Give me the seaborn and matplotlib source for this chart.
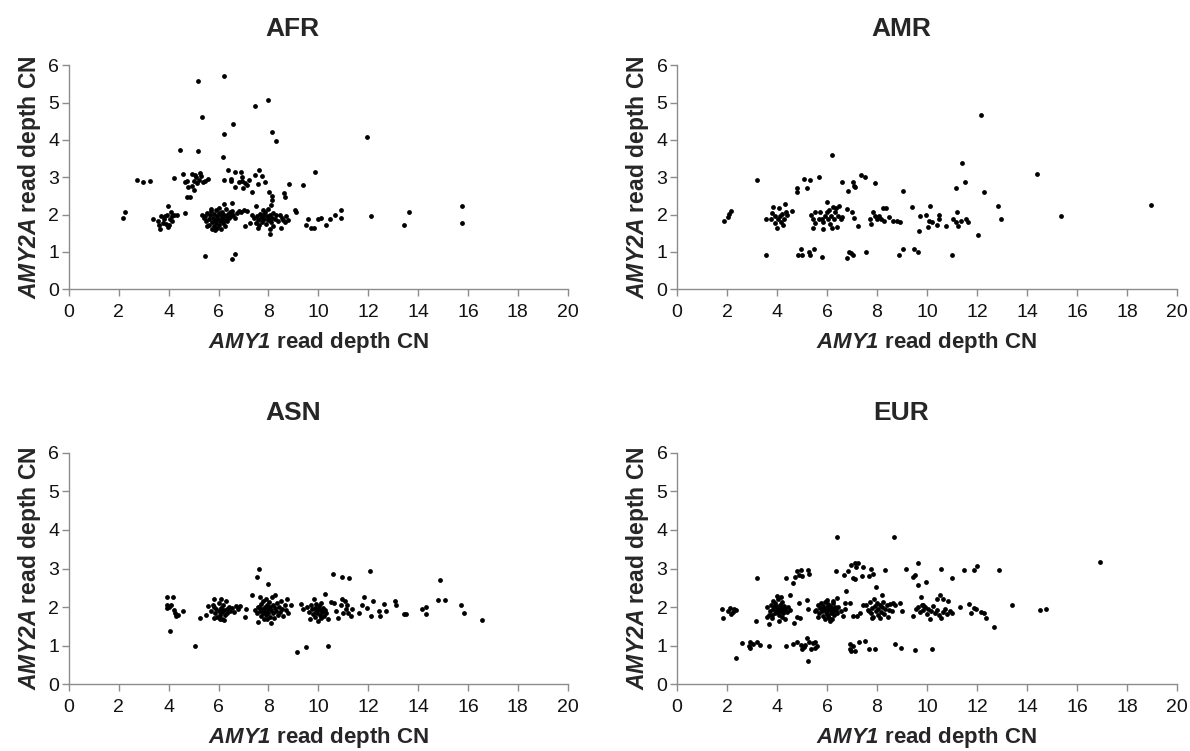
import numpy as np
import pandas as pd
import matplotlib
matplotlib.use('Agg')
import matplotlib.pyplot as plt
import seaborn as sns

# (AMY1 CN, AMY2A CN), one list per population
afr_pts = [
    (5.19,5.59),(6.21,5.71),(7.97,5.08),(7.47,4.92),(5.34,4.61),(6.56,4.43),(8.14,4.20),(8.32,3.96),
    (6.21,4.15),(11.97,4.08),(4.46,3.73),(5.19,3.70),(6.18,3.53),(9.85,3.13),(9.37,2.79),(8.82,2.81),
    (2.73,2.92),(2.98,2.86),(3.25,2.90),(4.23,2.98),(15.77,2.22),(15.77,1.78),(13.62,2.08),(13.44,1.72),
    (12.12,1.96),(2.17,1.91),(2.26,2.08),(5.45,0.90),(6.53,0.81),(6.66,0.95),(8.06,1.48),(10.92,2.12),
    (10.92,1.90),(10.66,1.99),(10.47,1.88),(10.32,1.72),(10.11,1.90),(10.0,1.88),(9.82,1.65),(9.71,1.65),
    (9.50,1.71),(9.57,1.87),(9.05,2.13),(9.10,2.06),(4.64,2.04),
    (4.58,3.10),(4.64,2.86),(4.75,2.91),(4.76,2.73),(4.73,2.48),(4.84,2.48),(4.93,3.10),(5.0,2.91),
    (5.0,2.66),(4.95,2.77),(5.1,3.0),(5.27,3.11),(5.31,3.04),(5.37,2.86),(5.45,2.89),(5.56,2.95),
    (5.13,2.85),(5.22,2.92),(5.05,3.05),
    (6.37,3.19),(6.67,3.15),(6.50,2.95),(6.50,2.90),(6.21,2.92),(6.90,3.13),(6.95,3.0),(6.92,2.91),
    (6.82,2.86),(6.64,2.73),(6.98,2.72),(7.07,2.84),(7.21,2.92),(7.15,2.79),(7.34,2.61),(7.47,3.06),
    (7.63,3.19),(7.74,3.04),(7.58,2.82),(7.85,2.88),(8.02,2.60),(8.14,2.51),(8.14,2.40),(8.63,2.58),
    (8.66,2.46),(6.55,2.30),(6.20,2.27),
    (3.37,1.87),(3.58,1.84),(3.61,1.71),(3.65,1.62),(3.76,1.78),(3.80,1.88),(3.92,1.99),(3.98,2.22),
    (3.98,1.66),(4.05,1.88),(4.08,2.06),(4.15,1.84),(4.23,1.99),(4.32,1.99),(3.89,1.75),(3.69,1.96),
    (4.02,1.72),(3.85,1.95),(4.12,1.95),
    (5.35,2.00),(5.40,1.90),(5.45,1.95),(5.50,1.82),(5.55,2.05),(5.60,1.88),(5.62,1.72),(5.65,1.98),
    (5.70,2.10),(5.72,1.80),(5.75,1.62),(5.78,1.92),(5.80,2.02),(5.82,1.70),(5.85,1.85),(5.88,2.12),
    (5.90,1.78),(5.92,1.95),(5.95,1.65),(5.98,1.88),(6.00,2.05),(6.02,1.72),(6.05,1.82),(6.08,1.98),
    (6.10,1.62),(6.12,1.90),(6.15,2.08),(6.18,1.76),(6.20,1.86),(6.22,2.00),(6.25,1.70),(6.28,1.94),
    (6.30,2.15),(6.33,1.82),(6.36,2.02),(6.40,1.90),(6.45,2.06),(6.48,1.95),(6.52,2.10),(6.58,2.00),
    (6.65,1.92),(6.72,2.05),(6.80,2.10),(6.88,2.08),(7.00,2.12),(7.05,1.68),(7.15,2.10),(7.25,1.76),
    (5.52,1.68),(5.68,2.15),(6.03,2.18),(5.87,1.58),
    (7.35,2.00),(7.42,1.90),(7.48,2.22),(7.52,1.78),(7.55,1.95),(7.60,1.85),(7.64,1.72),(7.68,2.02),
    (7.72,1.92),(7.75,1.80),(7.78,1.98),(7.82,1.88),(7.86,2.08),(7.90,1.75),(7.93,1.95),(7.97,1.85),
    (8.00,2.15),(8.03,1.90),(8.06,2.00),(8.10,1.80),(8.12,2.25),(8.15,1.92),(8.18,2.05),(8.20,1.70),
    (8.25,1.88),(8.30,1.98),(8.40,1.82),(8.48,2.00),(8.52,1.64),(8.55,1.92),(8.60,1.86),(8.65,1.80),
    (8.72,1.96),(8.80,1.85),(7.58,1.65),(7.80,2.12),(8.08,1.60),
]

amr_pts = [
    (12.15,4.68),(6.19,3.60),(11.40,3.38),(14.41,3.08),(3.19,2.92),(5.09,2.95),(5.32,2.92),(5.69,3.0),
    (6.59,2.88),(7.04,2.86),(7.06,2.77),(7.12,2.73),(7.35,3.07),(7.52,3.0),(7.91,2.85),(6.83,2.63),
    (5.21,2.72),(4.80,2.70),(4.79,2.60),(9.04,2.62),(11.16,2.70),(11.51,2.86),(12.27,2.61),(12.84,2.22),
    (12.95,1.88),(12.03,1.44),(15.38,1.97),(18.98,2.26),(1.89,1.84),(2.04,1.93),(2.07,2.02),(2.16,2.10),
    (3.55,0.92),(4.82,0.91),(4.98,0.91),(4.95,1.08),(5.26,1.0),(5.32,0.91),(5.46,1.07),(5.78,0.86),
    (6.80,0.84),(6.87,1.0),(6.95,0.98),(7.04,0.91),(7.55,1.0),(8.88,0.91),(9.05,1.07),(9.49,1.07),
    (9.62,1.0),(10.98,0.91),
    (3.54,1.88),(3.77,1.88),(3.84,2.21),(3.80,2.04),(3.90,1.97),(4.0,1.64),(3.93,1.78),(4.04,1.88),
    (4.07,2.17),(4.10,1.97),(4.15,1.80),(4.18,2.02),(4.22,1.72),(4.27,1.88),(4.30,2.28),(4.34,2.06),
    (4.39,1.99),(4.60,2.10),
    (5.37,1.99),(5.43,1.88),(5.44,1.64),(5.52,1.78),(5.67,1.88),(5.72,2.06),(5.79,1.88),(5.82,1.80),
    (5.90,1.97),(5.98,2.06),(6.0,2.33),(6.04,1.88),(6.08,2.11),(6.13,1.75),(6.16,1.97),(6.19,1.64),
    (6.23,2.20),(6.28,1.88),(6.33,2.06),(6.37,2.17),(6.43,1.97),(6.40,1.66),(6.48,2.22),(6.55,1.88),
    (6.61,1.93),(5.82,1.62),(5.52,2.06),(6.80,2.15),(6.98,2.06),(7.06,1.92),(7.23,1.69),
    (7.70,1.88),(7.76,1.75),(7.85,2.06),(7.93,1.96),(7.99,1.88),(8.08,1.96),(8.14,1.88),(8.22,2.17),
    (8.26,1.84),(8.34,2.17),(8.46,1.93),(8.63,1.84),(8.80,1.84),(8.92,1.81),
    (9.41,2.20),(9.71,1.96),(9.68,1.55),(9.94,1.99),(10.02,1.66),(10.09,1.84),(10.12,2.22),(10.18,1.80),
    (10.40,1.71),(10.49,2.00),(10.49,1.87),(10.76,1.68),(11.04,1.88),(11.16,1.81),(11.20,2.06),(11.23,1.68),
    (11.35,1.84),(11.57,1.88),(11.65,1.81),
]

asn_pts = [
    (7.61,2.99),(7.55,2.79),(8.0,2.61),(10.58,2.86),(10.95,2.78),(11.24,2.76),(12.08,2.94),(14.89,2.70),
    (14.82,2.18),(15.09,2.18),(15.73,2.06),(15.85,1.84),(16.58,1.67),(14.17,1.95),(14.33,2.0),(14.30,1.81),
    (13.45,1.81),(13.53,1.81),(13.08,2.15),(13.11,2.06),(12.64,2.08),(12.73,1.89),(12.42,1.89),(12.48,1.77),
    (12.20,2.15),(12.12,1.76),(11.85,2.27),(11.94,1.98),(11.74,2.06),(11.64,1.85),
    (4.06,1.39),(5.05,1.0),(9.15,0.83),(9.52,0.97),(10.39,0.99),
    (3.94,2.25),(4.17,2.25),(3.94,2.06),(4.02,1.99),(4.09,2.06),(4.21,1.93),(4.27,1.85),(4.39,1.79),
    (4.30,1.77),(4.59,1.89),(3.94,1.98),
    (5.26,1.72),(5.48,1.79),(5.58,2.02),(5.68,1.89),(5.76,2.05),(5.83,2.22),(5.83,1.72),
    (5.80,2.00),(5.85,1.85),(5.90,1.95),(5.95,1.75),(6.00,2.10),(6.02,1.90),(6.05,1.80),(6.08,2.20),
    (6.10,1.98),(6.12,1.70),(6.15,1.88),(6.18,2.05),(6.20,1.92),(6.25,1.80),(6.28,2.15),(6.32,1.95),
    (6.35,1.85),(6.40,2.00),(6.45,1.90),(6.52,1.98),(6.60,1.88),(6.70,2.02),(6.78,1.95),(6.85,2.02),
    (7.05,1.75),(7.10,1.95),(6.05,1.68),(6.22,1.66),
    (7.35,2.30),(7.45,1.92),(7.55,1.85),(7.58,1.62),(7.62,2.00),(7.65,1.90),(7.68,2.25),(7.70,1.78),
    (7.72,2.08),(7.75,1.95),(7.78,1.85),(7.80,2.15),(7.82,1.70),(7.85,2.00),(7.88,1.90),(7.90,2.20),
    (7.92,1.80),(7.95,2.05),(7.98,1.95),(8.00,1.85),(8.02,2.12),(8.05,1.75),(8.08,2.00),(8.10,1.58),
    (8.12,1.92),(8.15,2.25),(8.18,1.85),(8.20,2.05),(8.22,1.72),(8.25,1.98),(8.28,2.32),(8.30,1.90),
    (8.35,2.10),(8.38,1.80),(8.42,2.00),(8.45,1.88),(8.50,2.15),(8.55,1.95),(8.60,1.78),(8.65,2.05),
    (8.70,1.92),(8.75,2.20),(8.80,1.85),(8.90,2.05),(7.60,2.00),(7.95,1.68),
    (9.30,2.08),(9.40,1.95),(9.55,2.00),(9.62,1.88),(9.68,1.70),(9.72,2.05),(9.75,1.95),(9.80,1.82),
    (9.82,2.20),(9.85,1.98),(9.88,1.75),(9.90,1.90),(9.92,2.08),(9.95,1.85),(9.98,1.65),(10.00,1.95),
    (10.02,2.02),(10.05,1.80),(10.08,1.92),(10.10,2.10),(10.12,1.72),(10.15,1.88),(10.18,1.98),(10.22,1.78),
    (10.25,2.35),(10.28,1.92),(10.32,1.85),(10.40,1.70),(10.50,2.12),(10.62,2.10),(10.70,1.90),(10.80,1.72),
    (10.90,2.05),(10.95,2.22),(11.00,1.85),(11.05,2.15),(11.10,1.95),(11.15,2.05),(11.20,1.85),(11.30,1.78),
    (11.35,1.95),
]

eur_pts = [
    (6.41,3.83),(8.69,3.81),(16.93,3.16),(13.40,2.06),(12.90,2.95),(14.52,1.93),(14.76,1.94),(12.69,1.48),
    (11.48,2.97),(11.88,2.96),(12.0,3.07),(10.99,2.76),(10.56,2.98),(9.95,2.66),(9.62,3.15),(9.51,2.83),
    (9.44,2.78),(9.65,2.57),(9.16,2.98),(8.31,2.97),(7.94,2.53),(3.21,2.76),(4.37,2.76),(4.63,2.63),
    (4.72,2.79),(4.81,2.93),(4.96,2.97),(4.89,2.84),(5.0,2.80),(5.24,2.97),(5.28,2.86),(6.34,2.93),
    (6.76,2.41),(6.69,2.84),(6.82,2.93),(6.95,3.09),(7.11,3.13),(7.22,3.14),(7.15,3.04),(7.02,2.76),
    (7.11,2.74),(7.42,3.03),(7.40,2.81),(7.77,2.98),(7.83,2.86),(7.68,2.81),
    (2.34,0.69),(2.60,1.08),(2.87,0.98),(2.93,1.10),(2.90,0.94),(3.05,1.04),(3.18,1.10),(3.30,1.02),
    (3.66,0.98),(4.35,0.98),(4.64,1.04),(4.78,1.10),(4.96,1.02),(5.08,0.96),(5.19,1.19),(5.28,1.10),
    (5.42,1.06),(5.53,0.94),(5.34,0.90),(5.22,0.60),(5.0,0.90),(5.11,1.01),(5.50,1.10),(5.59,0.98),
    (6.92,1.05),(7.02,0.98),(7.10,0.86),(6.96,0.86),(6.90,0.92),(7.28,1.10),(7.51,1.12),(7.69,0.91),
    (7.91,0.91),(8.70,1.03),(8.95,0.95),(9.51,0.89),(10.18,0.91),
    (1.80,1.95),(1.83,1.72),(2.02,1.89),(2.11,1.98),(2.23,1.88),(2.29,1.95),(2.37,1.92),(2.14,1.82),
    (3.16,1.63),(3.66,1.56),(3.59,2.0),(3.66,1.79),
    (4.89,2.11),(4.81,1.74),(4.90,1.72),(4.67,1.59),(4.52,2.32),(5.19,2.18),(5.24,1.94),(5.50,1.89),
    (6.41,2.24),(6.72,2.11),(6.90,2.10),(7.02,1.76),(7.18,1.76),(7.33,1.85),(7.42,2.06),(7.68,1.89),
    (9.01,1.91),(8.93,2.11),(9.44,1.78),(9.75,2.26),(9.85,2.06),(10.38,2.20),(10.50,2.32),(10.63,2.22),
    (10.84,2.15),(11.33,2.0),(11.69,2.08),(11.88,1.98),(11.98,1.94),(12.15,1.88),(12.27,1.85),(12.38,1.72),
    (11.76,1.85),
    (3.70,1.90),(3.75,2.05),(3.80,1.80),(3.82,2.15),(3.85,1.95),(3.88,2.00),(3.90,1.85),(3.92,2.10),
    (3.95,1.92),(3.97,2.02),(4.00,1.88),(4.02,2.20),(4.05,1.95),(4.07,1.80),(4.10,2.05),(4.12,1.90),
    (4.15,2.00),(4.18,1.75),(4.20,2.12),(4.22,1.92),(4.25,1.85),(4.28,2.02),(4.32,1.95),(4.38,1.88),
    (4.45,2.00),(4.50,1.92),(3.98,2.28),(4.08,1.65),(3.78,1.72),(4.15,2.25),(3.60,1.75),(4.30,1.70),
    (5.55,1.92),(5.62,2.05),(5.68,1.85),(5.72,1.98),(5.75,2.10),(5.78,1.90),(5.82,1.78),(5.85,2.02),
    (5.88,1.95),(5.90,1.70),(5.92,2.12),(5.95,1.88),(5.98,2.00),(6.00,1.82),(6.02,1.95),(6.05,2.08),
    (6.08,1.72),(6.10,1.92),(6.12,2.02),(6.15,1.85),(6.18,1.98),(6.20,1.68),(6.22,2.10),(6.25,1.90),
    (6.28,1.80),(6.30,2.00),(6.35,1.92),(6.40,1.85),(6.45,2.00),(6.55,1.90),(6.62,1.78),(6.70,1.95),
    (5.65,1.75),(6.00,2.18),(6.10,1.65),(5.80,1.95),(6.25,2.15),(6.05,1.78),
    (7.55,2.05),(7.62,1.92),(7.70,2.12),(7.75,1.85),(7.80,1.98),(7.85,1.75),(7.88,2.20),(7.92,2.02),
    (7.95,1.90),(8.00,2.10),(8.02,1.80),(8.05,1.95),(8.10,2.05),(8.12,1.72),(8.15,1.88),(8.20,2.00),
    (8.25,2.12),(8.28,1.82),(8.32,1.95),(8.38,2.05),(8.42,1.75),(8.48,1.92),(8.52,2.08),(8.58,1.90),
    (8.65,2.10),(8.70,2.05),(7.78,1.72),(8.20,2.30),
    (9.55,1.95),(9.62,2.00),(9.70,1.88),(9.78,2.05),(9.85,1.92),(9.92,2.00),(10.00,1.82),(10.05,1.95),
    (10.10,1.70),(10.15,1.90),(10.22,2.02),(10.30,1.85),(10.40,1.92),(10.48,1.80),(10.55,1.72),(10.62,1.88),
    (10.70,1.95),(10.80,1.82),(10.90,1.90),(11.00,1.85),
]

populations = ['AFR', 'AMR', 'ASN', 'EUR']
panel_pts = [afr_pts, amr_pts, asn_pts, eur_pts]

#%%
sns.set_theme(style='ticks')
plt.rcParams['font.family'] = ['Liberation Sans', 'DejaVu Sans']
# gene names in bold italic via mathtext
plt.rcParams['mathtext.fontset'] = 'custom'
plt.rcParams['mathtext.it'] = 'Liberation Sans:italic:bold'
plt.rcParams['mathtext.rm'] = 'Liberation Sans:italic:bold'

fig = plt.figure(figsize=(11.9, 7.51), dpi=100)
# axes boxes in figure fractions [left, bottom, width, height]
boxes = [[0.058, 0.615, 0.419, 0.298],
         [0.569, 0.615, 0.420, 0.298],
         [0.058, 0.089, 0.419, 0.308],
         [0.569, 0.089, 0.420, 0.308]]
title_xy = [(0.246, 0.962), (0.757, 0.962), (0.246, 0.450), (0.757, 0.450)]

for pop, pts, box, txy in zip(populations, panel_pts, boxes, title_xy):
    ax = fig.add_axes(box)
    df = pd.DataFrame(pts, columns=['AMY1', 'AMY2A'])
    sns.scatterplot(data=df, x='AMY1', y='AMY2A', ax=ax, color='black', s=12, linewidth=0)
    ax.set_xlim(0, 20)
    ax.set_ylim(0, 6)
    ax.set_xticks(np.arange(0, 21, 2))
    ax.set_yticks(np.arange(0, 7, 1))
    sns.despine(ax=ax)
    for sp in ['left', 'bottom']:
        ax.spines[sp].set_color('#8c8c8c')
        ax.spines[sp].set_linewidth(1.0)
    ax.tick_params(axis='both', colors='#8c8c8c', labelcolor='#111111', labelsize=14,
                   length=5, width=1.0, direction='out')
    ax.tick_params(axis='x', pad=6)
    ax.tick_params(axis='y', pad=2)
    ax.set_xlabel(r'$\mathrm{AMY1}$ read depth CN', fontsize=16, fontweight='bold', labelpad=6)
    ax.set_ylabel(r'$\mathrm{AMY2A}$ read depth CN', fontsize=16.5, fontweight='bold', labelpad=4)
    fig.text(txy[0], txy[1], pop, ha='center', va='center', fontsize=19, fontweight='bold')

plt.savefig('out.png', dpi=100)
